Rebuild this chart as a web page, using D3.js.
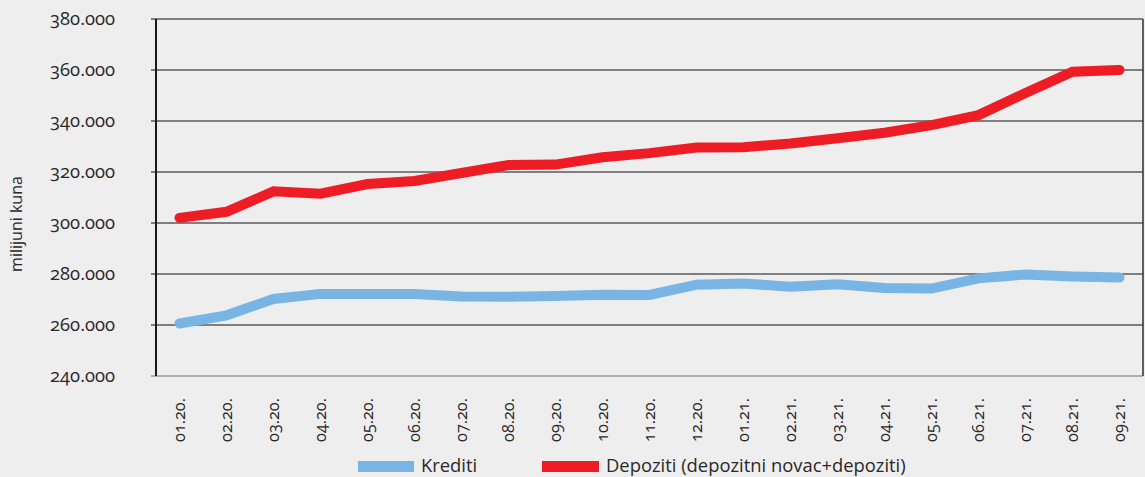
<!DOCTYPE html>
<html><head><meta charset="utf-8">
<script src="https://cdn.jsdelivr.net/npm/d3@7"></script>
<style>
html,body{margin:0;padding:0;background:#eeeeee;}
svg{display:block;}
text{font-family:"Open Sans","Noto Sans",sans-serif;fill:#2a2829;font-variant-numeric:oldstyle-nums;font-feature-settings:"onum";}
</style></head><body>
<svg id="c" width="1145" height="477"></svg>
<script>
const categories = ["01.20.","02.20.","03.20.","04.20.","05.20.","06.20.","07.20.","08.20.","09.20.","10.20.","11.20.","12.20.","01.21.","02.21.","03.21.","04.21.","05.21.","06.21.","07.21.","08.21.","09.21."];
const krediti = [260.6,263.8,270.2,272.2,272.2,272.2,271.2,271.1,271.4,271.9,271.8,275.8,276.3,275.0,276.0,274.5,274.3,278.3,279.8,279.0,278.6];
const depoziti = [302.0,304.4,312.4,311.5,315.3,316.5,319.6,322.7,322.9,325.8,327.4,329.6,329.7,331.2,333.2,335.4,338.4,342.3,351.0,359.3,360.0];
const yTicks = [240,260,280,300,320,340,360,380];
const seriesNames = ["Krediti","Depoziti (depozitni novac+depoziti)"];
const colors = ["#78b5e4","#ee1c25"];

const svg = d3.select("#c");
const L = 156, R = 1143, T = 19, B = 376;
const x = d3.scaleBand().domain(categories).range([L, R]);
const y = d3.scaleLinear().domain([240, 380]).range([B, T]);
const fmt = v => d3.format(",")(v*1000).replace(/,/g, ".");

function fitSize(sample, target) {
  const t = svg.append("text").attr("font-size", 20).text(sample);
  const w = t.node().getComputedTextLength();
  t.remove();
  return 20 * target / w;
}
const fsY = fitSize("380.000", 65);
const fsX = fitSize("01.20.", 44);
const fsLeg = fitSize(seriesNames[1], 300);
const fsTitle = fitSize("milijuni kuna", 96);

svg.append("g").selectAll("line").data(yTicks).join("line")
  .attr("x1", L - 5).attr("x2", R)
  .attr("y1", d => y(d)).attr("y2", d => y(d))
  .attr("stroke", d => d === 240 ? "#9a9a9a" : "#5a5a5a")
  .attr("stroke-width", 1.6);
svg.append("line").attr("x1", R).attr("x2", R).attr("y1", T).attr("y2", B)
  .attr("stroke", "#3a3a3a").attr("stroke-width", 1.6);
svg.append("line").attr("x1", L).attr("x2", L).attr("y1", T).attr("y2", B)
  .attr("stroke", "#1a1a1a").attr("stroke-width", 2);

svg.append("g").selectAll("text").data(yTicks).join("text")
  .attr("x", 115).attr("y", d => y(d)).attr("dy", "0.32em")
  .attr("text-anchor", "end").attr("font-size", fsY)
  .text(d => fmt(d));

svg.append("text").attr("transform", "translate(22,224) rotate(-90)")
  .attr("text-anchor", "middle").attr("font-size", fsTitle).text("milijuni kuna");

svg.append("g").selectAll("text").data(categories).join("text")
  .attr("transform", d => `translate(${x(d) + x.bandwidth()/2 + 5},398) rotate(-90)`)
  .attr("text-anchor", "end").attr("font-size", fsX)
  .text(d => d);

const line = d3.line().x((d, i) => x(categories[i]) + x.bandwidth()/2).y(d => y(d));
[krediti, depoziti].forEach((s, k) => {
  svg.append("path").attr("d", line(s)).attr("fill", "none")
    .attr("stroke", colors[k]).attr("stroke-width", 10)
    .attr("stroke-linecap", "round").attr("stroke-linejoin", "miter");
});

const lg = [{x: 358, w: 56, tx: 421}, {x: 542, w: 57, tx: 606}];
lg.forEach((p, k) => {
  svg.append("rect").attr("x", p.x).attr("y", 461).attr("width", p.w).attr("height", 11).attr("fill", colors[k]);
  svg.append("text").attr("x", p.tx).attr("y", 472)
    .attr("font-size", fsLeg).text(seriesNames[k]);
});
</script></body></html>
